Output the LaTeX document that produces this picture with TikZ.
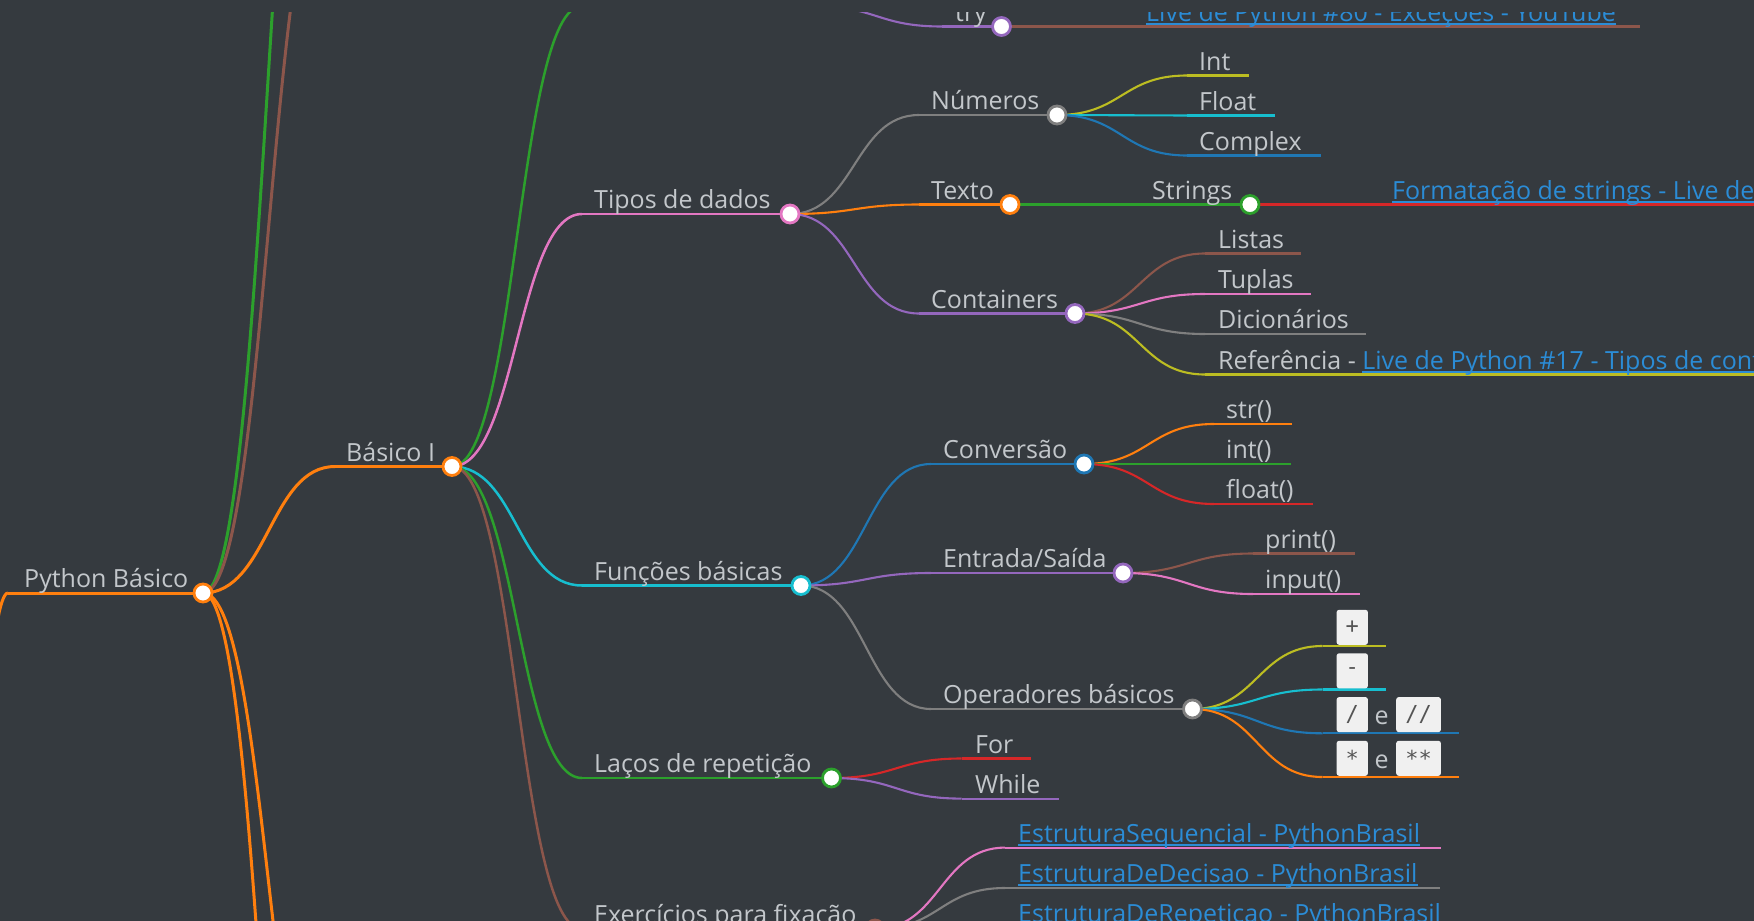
\documentclass[tikz,border=0pt]{standalone}
\usepackage{fontspec}
\setmainfont{Open Sans}
\newfontfamily\codefont{DejaVu Sans Mono}
\usetikzlibrary{calc}
\definecolor{bg}{HTML}{353A3F}
\definecolor{txt}{HTML}{C3C7CB}
\definecolor{cblue}{HTML}{1F77B4}
\definecolor{corange}{HTML}{FF7F0E}
\definecolor{cgreen}{HTML}{2CA02C}
\definecolor{cred}{HTML}{D62728}
\definecolor{cpurple}{HTML}{9467BD}
\definecolor{cbrown}{HTML}{8C564B}
\definecolor{cpink}{HTML}{E377C2}
\definecolor{cgray}{HTML}{7F7F7F}
\definecolor{colive}{HTML}{BCBD22}
\definecolor{ccyan}{HTML}{17BECF}
\definecolor{clink}{HTML}{2B8CD6}
\definecolor{codebg}{HTML}{F0F0F0}
\definecolor{codetxt}{HTML}{555555}
\newcommand\mmlink[3]{\draw[#1] (#2) .. controls ($(#2)+(65,0)$) and ($(#3)+(-65,0)$) .. (#3);}
\tikzset{
  lbl/.style={anchor=base west, inner sep=0pt, text=txt, font=\fontsize{25}{29}\selectfont, yshift=-2pt},
  lnk/.style={lbl, text=clink},
  ul/.style={draw=clink, line width=1.6pt},
  dot/.style={circle, fill=white, line width=2.8pt, minimum size=18pt, inner sep=0pt},
  lnA/.style={line width=3pt},
  lnB/.style={line width=2.5pt},
  lnC/.style={line width=2.1pt},
  codebox/.style={anchor=south west, fill=codebg, rounded corners=2.5pt, minimum height=35pt, inner sep=0pt, text=codetxt, font=\codefont\fontsize{22}{25}\selectfont},
}
\begin{document}
\begin{tikzpicture}[x=1pt,y=-1pt]
\fill[bg] (0,0) rectangle (1754,921);
\useasboundingbox (0,0) rectangle (1754,921);
\clip (0,12) rectangle (1754,921);
% ---------- coordinates ----------
\coordinate (rootC) at (-122,3560);
\coordinate (pyS) at (8,593);      \coordinate (pyC) at (203,593);
\coordinate (upAS) at (335,-464);  \coordinate (upBS) at (335,-147);
\coordinate (dnAS) at (335,1179);  \coordinate (dnBS) at (335,1644);
\coordinate (b1S) at (335,466.5);  \coordinate (b1C) at (452,466.5);
\coordinate (errS) at (582,6);     \coordinate (errC) at (812,6);
\coordinate (tipS) at (582,214);   \coordinate (tipC) at (790,214);
\coordinate (funS) at (582,585.5); \coordinate (funC) at (801,585.5);
\coordinate (lacS) at (582,778);   \coordinate (lacC) at (831.5,778);
\coordinate (excS) at (582,929);   \coordinate (excC) at (875,929);
\coordinate (tryS) at (942,26.5);  \coordinate (tryC) at (1001.5,26.5);
\coordinate (tlkS) at (1131.5,26.5); \coordinate (tlkE) at (1640,26.5);
\coordinate (numS) at (919,115);   \coordinate (numC) at (1057,115);
\coordinate (texS) at (919,204.5); \coordinate (texC) at (1010,204.5);
\coordinate (conS) at (919,313.5); \coordinate (conC) at (1075,313.5);
\coordinate (intS) at (1187,75.5);  \coordinate (intE) at (1249,75.5);
\coordinate (fltS) at (1187,115.5); \coordinate (fltE) at (1275,115.5);
\coordinate (cpxS) at (1187,155.5); \coordinate (cpxE) at (1321,155.5);
\coordinate (strS) at (1140,204.5); \coordinate (strC) at (1250,204.5);
\coordinate (fmtS) at (1380,204.5); \coordinate (fmtE) at (1770,204.5);
\coordinate (lisS) at (1205,253.5); \coordinate (lisE) at (1301,253.5);
\coordinate (tupS) at (1205,294);   \coordinate (tupE) at (1311,294);
\coordinate (dicS) at (1205,334);   \coordinate (dicE) at (1366,334);
\coordinate (refS) at (1205,374.5); \coordinate (refE) at (1770,374.5);
\coordinate (cvS) at (931,464);     \coordinate (cvC) at (1084,464);
\coordinate (esS) at (931,573);     \coordinate (esC) at (1123,573);
\coordinate (opS) at (931,709);     \coordinate (opC) at (1192.5,709);
\coordinate (sS) at (1214,424);     \coordinate (sE) at (1292,424);
\coordinate (iS) at (1214,464);     \coordinate (iE) at (1291,464);
\coordinate (fS) at (1214,504);     \coordinate (fE) at (1313,504);
\coordinate (pS) at (1253,553.5);   \coordinate (pE) at (1355,553.5);
\coordinate (inS) at (1253,594);    \coordinate (inE) at (1360,594);
\coordinate (plS) at (1322.5,646);  \coordinate (plE) at (1386,646);
\coordinate (miS) at (1322.5,689.5); \coordinate (miE) at (1386,689.5);
\coordinate (diS) at (1322.5,733.3); \coordinate (diE) at (1458.6,733.3);
\coordinate (muS) at (1322.5,777);  \coordinate (muE) at (1458.6,777);
\coordinate (forS) at (961.5,758.5); \coordinate (forE) at (1031,758.5);
\coordinate (whS) at (961.5,798.6);  \coordinate (whE) at (1059,798.6);
\coordinate (e1S) at (1005,847.6);  \coordinate (e1E) at (1441,847.6);
\coordinate (e2S) at (1005,888);    \coordinate (e2E) at (1440,888);
\coordinate (e3S) at (1005,928);    \coordinate (e3E) at (1444,928);
% ---------- links & lines ----------
\mmlink{corange,lnA}{rootC}{pyS}
\draw[corange,lnA] (pyS) -- (pyC);
\mmlink{cgreen,lnA}{pyC}{upAS}
\mmlink{cbrown,lnA}{pyC}{upBS}
\mmlink{corange,lnA}{pyC}{dnAS}
\mmlink{corange,lnA}{pyC}{dnBS}
\mmlink{corange,lnA}{pyC}{b1S}
\draw[corange,lnA] (b1S) -- (b1C);
\mmlink{cgreen,lnB}{b1C}{errS}   \draw[cgreen,lnB] (errS) -- (errC);
\mmlink{cpink,lnB}{b1C}{tipS}    \draw[cpink,lnB] (tipS) -- (tipC);
\mmlink{ccyan,lnB}{b1C}{funS}    \draw[ccyan,lnB] (funS) -- (funC);
\mmlink{cgreen,lnB}{b1C}{lacS}   \draw[cgreen,lnB] (lacS) -- (lacC);
\mmlink{cbrown,lnB}{b1C}{excS}   \draw[cbrown,lnB] (excS) -- (excC);
\mmlink{cpurple,lnC}{errC}{tryS} \draw[cpurple,lnC] (tryS) -- (tryC);
\draw[cbrown,lnC] (tryC) -- (tlkS) -- (tlkE);
\mmlink{cgray,lnC}{tipC}{numS}   \draw[cgray,lnC] (numS) -- (numC);
\mmlink{corange,lnC}{tipC}{texS} \draw[corange,lnC] (texS) -- (texC);
\mmlink{cpurple,lnC}{tipC}{conS} \draw[cpurple,lnC] (conS) -- (conC);
\mmlink{colive,lnC}{numC}{intS}  \draw[colive,lnC] (intS) -- (intE);
\mmlink{ccyan,lnC}{numC}{fltS}   \draw[ccyan,lnC] (fltS) -- (fltE);
\mmlink{cblue,lnC}{numC}{cpxS}   \draw[cblue,lnC] (cpxS) -- (cpxE);
\draw[cgreen,lnC] (texC) -- (strS) -- (strC);
\draw[cred,lnC] (strC) -- (fmtS) -- (fmtE);
\mmlink{cbrown,lnC}{conC}{lisS}  \draw[cbrown,lnC] (lisS) -- (lisE);
\mmlink{cpink,lnC}{conC}{tupS}   \draw[cpink,lnC] (tupS) -- (tupE);
\mmlink{cgray,lnC}{conC}{dicS}   \draw[cgray,lnC] (dicS) -- (dicE);
\mmlink{colive,lnC}{conC}{refS}  \draw[colive,lnC] (refS) -- (refE);
\mmlink{cblue,lnC}{funC}{cvS}    \draw[cblue,lnC] (cvS) -- (cvC);
\mmlink{cpurple,lnC}{funC}{esS}  \draw[cpurple,lnC] (esS) -- (esC);
\mmlink{cgray,lnC}{funC}{opS}    \draw[cgray,lnC] (opS) -- (opC);
\mmlink{corange,lnC}{cvC}{sS}    \draw[corange,lnC] (sS) -- (sE);
\mmlink{cgreen,lnC}{cvC}{iS}     \draw[cgreen,lnC] (iS) -- (iE);
\mmlink{cred,lnC}{cvC}{fS}       \draw[cred,lnC] (fS) -- (fE);
\mmlink{cbrown,lnC}{esC}{pS}     \draw[cbrown,lnC] (pS) -- (pE);
\mmlink{cpink,lnC}{esC}{inS}     \draw[cpink,lnC] (inS) -- (inE);
\mmlink{colive,lnC}{opC}{plS}    \draw[colive,lnC] (plS) -- (plE);
\mmlink{ccyan,lnC}{opC}{miS}     \draw[ccyan,lnC] (miS) -- (miE);
\mmlink{cblue,lnC}{opC}{diS}     \draw[cblue,lnC] (diS) -- (diE);
\mmlink{corange,lnC}{opC}{muS}   \draw[corange,lnC] (muS) -- (muE);
\mmlink{cred,lnC}{lacC}{forS}    \draw[cred,lnC] (forS) -- (forE);
\mmlink{cpurple,lnC}{lacC}{whS}  \draw[cpurple,lnC] (whS) -- (whE);
\mmlink{cpink,lnC}{excC}{e1S}    \draw[cpink,lnC] (e1S) -- (e1E);
\mmlink{cgray,lnC}{excC}{e2S}    \draw[cgray,lnC] (e2S) -- (e2E);
\mmlink{colive,lnC}{excC}{e3S}   \draw[colive,lnC] (e3S) -- (e3E);
% ---------- code boxes ----------
\node[codebox, minimum width=31.3pt] (bPl) at (1336.4,645) {+};
\node[codebox, minimum width=31.3pt] (bMi) at (1336.4,688.5) {-};
\node[codebox, minimum width=31.3pt] (bDi) at (1336.4,732.3) {/};
\node[codebox, minimum width=44.7pt] (bDd) at (1396,732.3) {//};
\node[codebox, minimum width=31.3pt] (bMu) at (1336.4,776) {*};
\node[codebox, minimum width=44.7pt] (bMm) at (1396,776) {**};
\node[lbl] (tE1) at (1374.5,722.5) {e};
\node[lbl] (tE2) at (1374.5,766) {e};
% ---------- circles ----------
\node[dot, draw=corange] (py) at (pyC) {};
\node[dot, draw=corange] (b1) at (b1C) {};
\node[dot, draw=cpink] (tip) at (tipC) {};
\node[dot, draw=ccyan] (fun) at (funC) {};
\node[dot, draw=cgreen] (lac) at (lacC) {};
\node[dot, draw=cbrown] (exc) at (excC) {};
\node[dot, draw=cpurple] (try) at (tryC) {};
\node[dot, draw=cgray] (num) at (numC) {};
\node[dot, draw=corange] (tex) at (texC) {};
\node[dot, draw=cpurple] (con) at (conC) {};
\node[dot, draw=cgreen] (str) at (strC) {};
\node[dot, draw=cblue] (cv) at (cvC) {};
\node[dot, draw=cpurple] (es) at (esC) {};
\node[dot, draw=cgray] (op) at (opC) {};
% ---------- labels ----------
\node[lbl] (tPy) at (24,585.5) {Python Básico};
\node[lbl] (tB1) at (346,459) {Básico I};
\node[lbl] (tTip) at (594,206.5) {Tipos de dados};
\node[lbl] (tFun) at (594,578) {Funções básicas};
\node[lbl] (tLac) at (594,770.5) {Laços de repetição};
\node[lbl] (tExc) at (594,921.5) {Exercícios para fixação};
\node[lbl] (tTry) at (955,19) {try};
\node[lnk] (tTlk) at (1146,19) {Live de Python \#80 - Exceções - YouTube};
\node[lbl] (tNum) at (931,107.5) {Números};
\node[lbl] (tTex) at (931,197) {Texto};
\node[lbl] (tCon) at (931,306) {Containers};
\node[lbl] (tInt) at (1199,68) {Int};
\node[lbl] (tFlt) at (1199,108) {Float};
\node[lbl] (tCpx) at (1199,148) {Complex};
\node[lbl] (tStr) at (1152,197) {Strings};
\node[lnk] (tFmt) at (1392,197) {Formatação de strings - Live de Python};
\node[lbl] (tLis) at (1218,246) {Listas};
\node[lbl] (tTup) at (1218,286.5) {Tuplas};
\node[lbl] (tDic) at (1218,326.5) {Dicionários};
\node[lbl] (tRef) at (1218,367) {Referência -};
\node[lnk] (tRfl) at ([xshift=6pt,yshift=2pt]tRef.base east) {Live de Python \#17 - Tipos de containers};
\node[lbl] (tCv) at (943,456.5) {Conversão};
\node[lbl] (tEs) at (943,565.5) {Entrada/Saída};
\node[lbl] (tOp) at (943,701.5) {Operadores básicos};
\node[lbl] (tS) at (1226,416.5) {str()};
\node[lbl] (tI) at (1226,456.5) {int()};
\node[lbl] (tF) at (1226,496.5) {float()};
\node[lbl] (tP) at (1265,546) {print()};
\node[lbl] (tIn) at (1265,586.5) {input()};
\node[lbl] (tFor) at (975,751) {For};
\node[lbl] (tWh) at (975,791) {While};
\node[lnk] (tE1s) at (1018,840) {EstruturaSequencial - PythonBrasil};
\node[lnk] (tE2s) at (1018,880.5) {EstruturaDeDecisao - PythonBrasil};
\node[lnk] (tE3s) at (1018,920.5) {EstruturaDeRepeticao - PythonBrasil};
% ---------- link underlines ----------
\foreach \n in {tTlk,tFmt,tRfl,tE1s,tE2s,tE3s}
  \draw[ul] ([yshift=-2.7pt]\n.base west) -- ([yshift=-2.7pt]\n.base east);
\end{tikzpicture}
\end{document}
